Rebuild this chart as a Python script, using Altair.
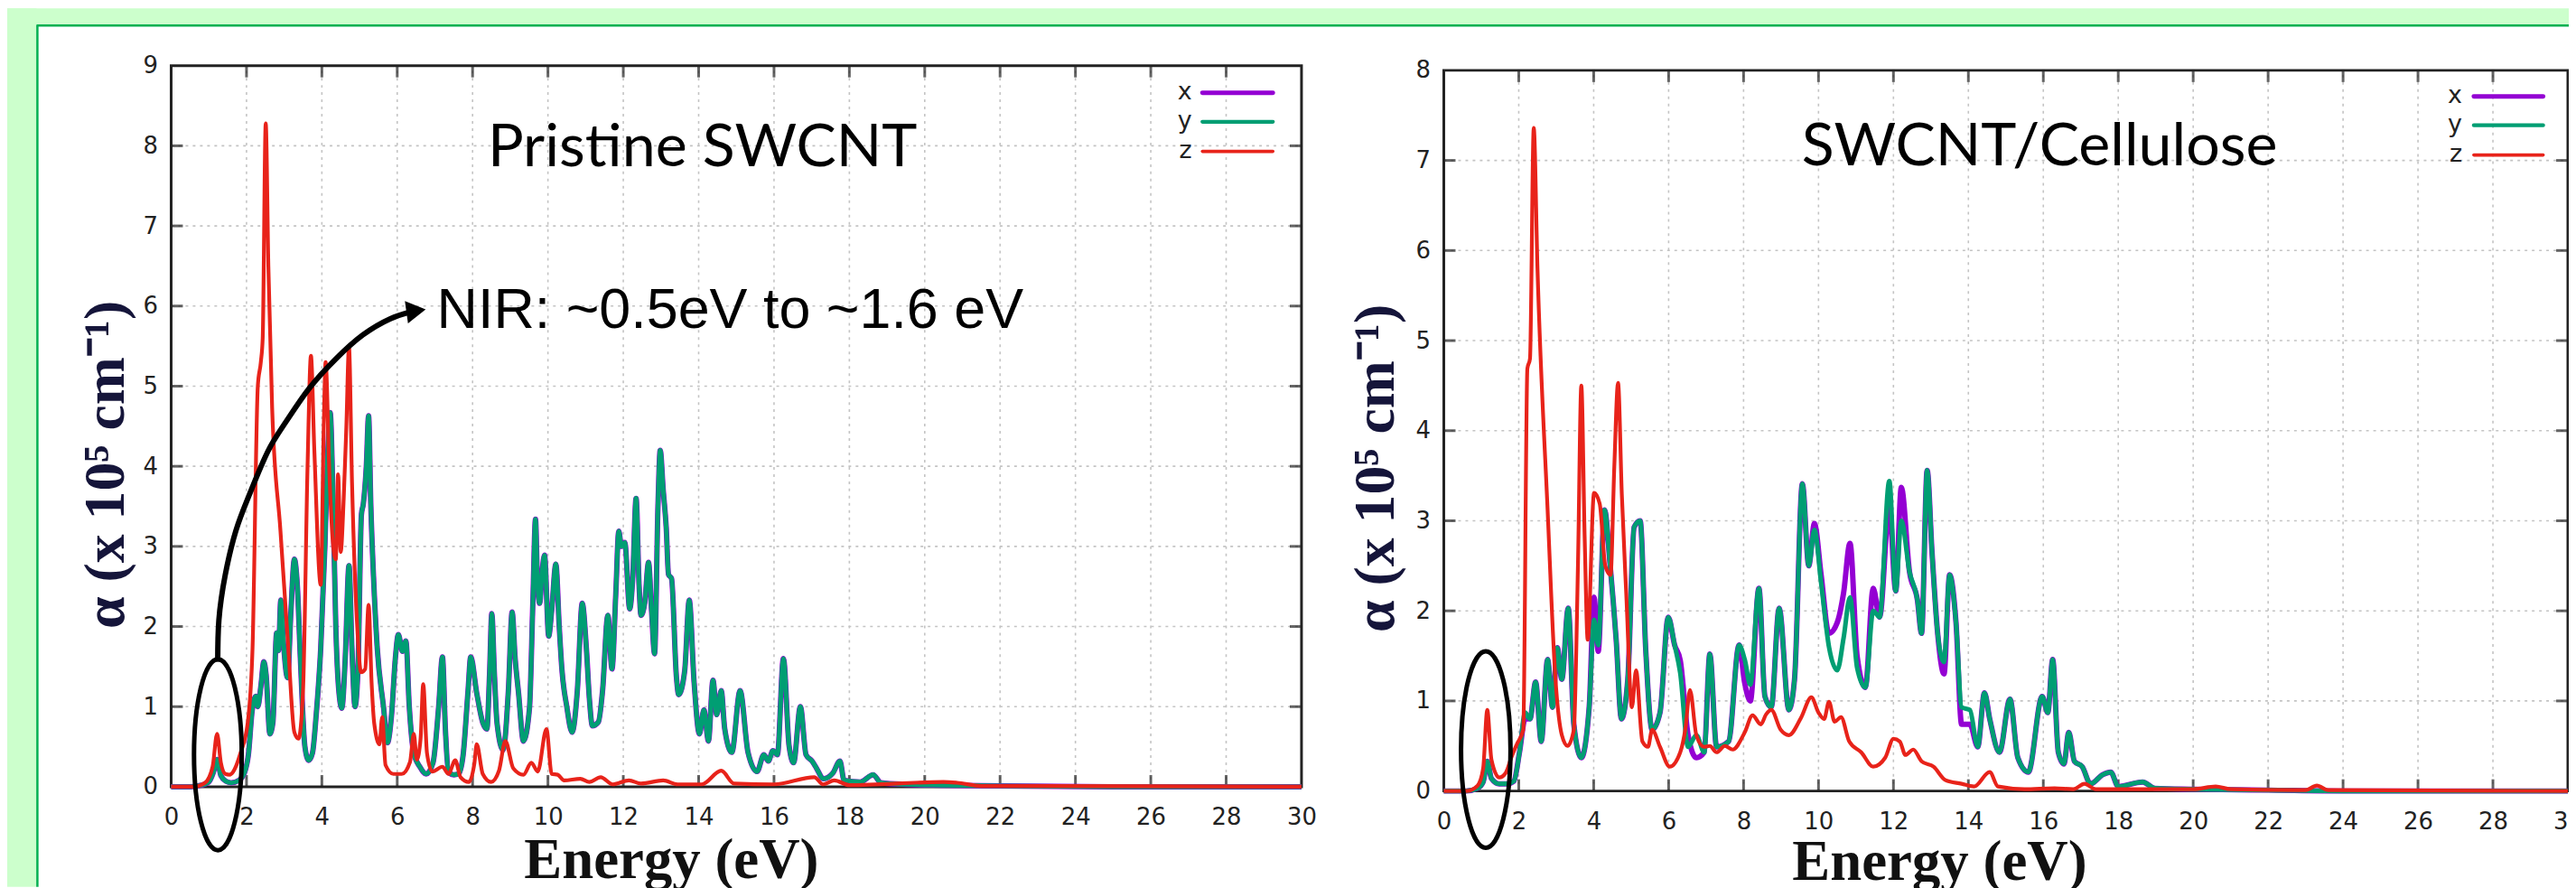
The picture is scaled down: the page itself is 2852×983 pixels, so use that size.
import altair as alt
import pandas as pd

# ---------------- data (Energy in eV, alpha in 1e5 cm^-1) ----------------
SERIES = ["x", "y", "z"]
SERIES_COLORS = ["#9400d3", "#009e73", "#e8231a"]
SERIES_WIDTHS = [6.0, 4.2, 3.4]
LEGEND_WIDTHS = [5.0, 3.6, 3.6]

X_LABELS = list(range(0, 31, 2))
X_TICKS = list(range(2, 30, 2))
LEFT_Y_LABELS = list(range(0, 10))
RIGHT_Y_LABELS = list(range(0, 9))

# Pristine SWCNT, y polarisation (x is indistinguishable from y in the picture)
LEFT_Y = [(0, 0), (0.5, 0.0), (0.8, 0.02), (1.0, 0.06), (1.12, 0.18), (1.22, 0.34), (1.32, 0.14), (1.45, 0.07),
          (1.6, 0.05), (1.8, 0.08), (1.95, 0.18), (2.05, 0.4), (2.15, 0.95), (2.25, 1.13), (2.3, 1.0), (2.38, 1.25),
          (2.46, 1.56), (2.52, 1.4), (2.62, 0.66), (2.7, 0.8), (2.8, 1.92), (2.85, 1.7), (2.91, 2.33), (2.98, 1.8),
          (3.09, 1.36), (3.18, 2.2), (3.27, 2.84), (3.35, 2.5), (3.43, 1.6), (3.55, 0.5), (3.65, 0.33), (3.75, 0.42),
          (3.85, 0.9), (3.97, 1.73), (4.08, 3.0), (4.16, 4.2), (4.22, 4.67), (4.3, 3.5), (4.37, 2.0), (4.45, 1.2),
          (4.53, 0.98), (4.62, 1.6), (4.72, 2.76), (4.8, 1.7), (4.88, 1.0), (4.96, 1.5), (5.05, 3.4), (5.1, 3.53),
          (5.18, 4.0), (5.24, 4.63), (5.3, 3.5), (5.37, 2.63), (5.47, 1.73), (5.64, 0.98), (5.74, 0.55), (5.85, 0.9),
          (5.95, 1.6), (6.03, 1.9), (6.14, 1.69), (6.23, 1.82), (6.32, 1.0), (6.44, 0.42), (6.6, 0.25), (6.77, 0.16),
          (6.95, 0.3), (7.1, 1.0), (7.2, 1.62), (7.28, 0.7), (7.36, 0.18), (7.5, 0.15), (7.63, 0.16), (7.75, 0.4),
          (7.88, 1.2), (7.95, 1.62), (8.11, 1.17), (8.27, 0.8), (8.38, 0.72), (8.45, 1.4), (8.51, 2.16), (8.58, 1.4),
          (8.65, 0.79), (8.81, 0.46), (8.95, 1.2), (9.05, 2.18), (9.13, 1.6), (9.22, 1.17), (9.35, 0.57), (9.51, 0.98),
          (9.6, 2.3), (9.67, 3.34), (9.72, 2.6), (9.78, 2.29), (9.85, 2.7), (9.91, 2.89), (10.02, 1.88), (10.1, 2.2),
          (10.21, 2.78), (10.3, 2.0), (10.37, 1.47), (10.5, 1.0), (10.64, 0.68), (10.78, 1.2), (10.91, 2.29),
          (11.02, 1.73), (11.1, 1.1), (11.18, 0.76), (11.34, 0.81), (11.45, 1.2), (11.59, 2.14), (11.7, 1.47),
          (11.8, 2.4), (11.88, 3.19), (11.95, 3.0), (12.04, 3.05), (12.17, 2.22), (12.25, 2.6), (12.34, 3.6),
          (12.42, 2.5), (12.47, 2.14), (12.57, 2.3), (12.67, 2.8), (12.75, 2.2), (12.83, 1.66), (12.92, 3.5),
          (12.98, 4.2), (13.06, 3.7), (13.14, 3.23), (13.2, 2.65), (13.28, 2.6), (13.41, 1.37), (13.47, 1.15),
          (13.63, 1.45), (13.75, 2.33), (13.88, 1.3), (14.02, 0.66), (14.14, 0.96), (14.26, 0.57), (14.38, 1.33),
          (14.48, 0.9), (14.6, 1.2), (14.69, 0.73), (14.88, 0.43), (15.1, 1.2), (15.31, 0.43), (15.55, 0.19),
          (15.73, 0.4), (15.85, 0.32), (15.97, 0.45), (16.09, 0.4), (16.25, 1.6), (16.4, 0.51), (16.52, 0.3),
          (16.7, 1.0), (16.85, 0.4), (17.01, 0.32), (17.13, 0.23), (17.31, 0.1), (17.56, 0.17), (17.75, 0.32),
          (17.86, 0.08), (18.29, 0.06), (18.63, 0.15), (18.84, 0.05), (19.5, 0.03), (20.5, 0.02), (22, 0.01),
          (25, 0.0), (30, 0.0)]
LEFT_X = list(LEFT_Y)

LEFT_Z = [(0, 0), (0.6, 0.0), (0.9, 0.05), (1.1, 0.25), (1.22, 0.66), (1.32, 0.3), (1.44, 0.16), (1.55, 0.15),
          (1.65, 0.19), (1.84, 0.42), (2.03, 0.79), (2.16, 1.73), (2.3, 5.0), (2.38, 5.3), (2.43, 5.6), (2.51, 8.28),
          (2.58, 6.5), (2.68, 4.73), (2.9, 3.2), (3.1, 1.8), (3.27, 0.68), (3.38, 0.6), (3.5, 1.2), (3.62, 4.0),
          (3.71, 5.38), (3.8, 4.2), (3.97, 2.52), (4.05, 4.5), (4.1, 5.3), (4.2, 3.9), (4.3, 3.0), (4.37, 2.84),
          (4.43, 3.9), (4.5, 2.93), (4.58, 3.6), (4.65, 4.5), (4.72, 5.49), (4.8, 3.8), (4.95, 1.9), (5.04, 1.43),
          (5.15, 1.47), (5.24, 2.27), (5.32, 1.3), (5.39, 0.79), (5.53, 0.53), (5.6, 0.87), (5.69, 0.27), (5.9, 0.16),
          (6.12, 0.16), (6.34, 0.31), (6.44, 0.66), (6.52, 0.34), (6.62, 0.6), (6.69, 1.28), (6.79, 0.42), (6.93, 0.19),
          (7.2, 0.25), (7.36, 0.16), (7.54, 0.33), (7.68, 0.12), (7.9, 0.06), (8.05, 0.3), (8.11, 0.53), (8.27, 0.16),
          (8.49, 0.06), (8.7, 0.2), (8.87, 0.57), (9.08, 0.23), (9.35, 0.15), (9.56, 0.3), (9.73, 0.19), (9.96, 0.72),
          (10.1, 0.16), (10.26, 0.15), (10.43, 0.08), (10.86, 0.1), (11.1, 0.06), (11.4, 0.12), (11.72, 0.03),
          (12.15, 0.08), (12.47, 0.04), (13.06, 0.08), (13.44, 0.03), (14.08, 0.03), (14.6, 0.2), (14.94, 0.04),
          (16.0, 0.03), (17.07, 0.12), (17.3, 0.03), (17.6, 0.08), (18.0, 0.02), (20.5, 0.06), (20.86, 0.05),
          (21.5, 0.01), (23, 0.01), (30, 0.0)]

# SWCNT/Cellulose
RIGHT_Y = [(0, 0), (0.6, 0.0), (0.9, 0.03), (1.05, 0.1), (1.16, 0.33), (1.27, 0.14), (1.48, 0.08), (1.7, 0.08),
           (1.87, 0.11), (2.02, 0.43), (2.17, 0.87), (2.3, 0.8), (2.45, 1.21), (2.6, 0.55), (2.77, 1.46), (2.9, 0.93),
           (3.03, 1.59), (3.15, 1.24), (3.32, 2.03), (3.47, 0.74), (3.67, 0.37), (3.88, 0.93), (4.01, 1.9),
           (4.12, 1.62), (4.29, 3.12), (4.44, 2.5), (4.6, 1.68), (4.74, 0.8), (4.91, 1.24), (5.08, 2.93), (5.24, 3.0),
           (5.39, 1.56), (5.56, 0.68), (5.77, 0.87), (5.99, 1.93), (6.16, 1.62), (6.31, 1.31), (6.52, 0.49),
           (6.74, 0.62), (6.95, 0.43), (7.1, 1.52), (7.28, 0.49), (7.6, 0.55), (7.88, 1.62), (8.03, 1.46), (8.18, 1.18),
           (8.41, 2.25), (8.57, 1.05), (8.74, 0.93), (8.95, 2.03), (9.21, 0.9), (9.36, 1.24), (9.57, 3.41), (9.74, 2.5),
           (9.89, 2.9), (10.07, 2.31), (10.28, 1.6), (10.5, 1.34), (10.67, 1.7), (10.84, 2.15), (11.03, 1.37),
           (11.25, 1.15), (11.46, 2.0), (11.63, 1.93), (11.89, 3.44), (12.06, 2.22), (12.21, 3.0), (12.43, 2.43),
           (12.64, 2.12), (12.75, 1.75), (12.9, 3.56), (13.03, 2.65), (13.18, 1.75), (13.35, 1.43), (13.5, 2.4),
           (13.67, 1.87), (13.82, 0.93), (14.04, 0.9), (14.25, 0.49), (14.43, 1.09), (14.57, 0.8), (14.83, 0.43),
           (15.11, 1.02), (15.32, 0.37), (15.6, 0.21), (15.97, 1.05), (16.12, 0.87), (16.25, 1.46), (16.4, 0.43),
           (16.55, 0.3), (16.68, 0.65), (16.83, 0.33), (17.04, 0.27), (17.26, 0.08), (17.58, 0.18), (17.8, 0.21),
           (18.0, 0.05), (18.65, 0.1), (18.98, 0.03), (20, 0.02), (22, 0.01), (24, 0.0), (30, 0.0)]

RIGHT_X = [(0, 0), (0.6, 0.0), (0.9, 0.03), (1.05, 0.1), (1.16, 0.33), (1.27, 0.14), (1.48, 0.08), (1.7, 0.08),
           (1.87, 0.11), (2.02, 0.43), (2.17, 0.8), (2.3, 0.8), (2.45, 1.21), (2.6, 0.55), (2.77, 1.46), (2.9, 0.93),
           (3.03, 1.59), (3.15, 1.24), (3.32, 2.03), (3.47, 0.74), (3.67, 0.37), (3.88, 0.93), (4.01, 2.15),
           (4.12, 1.55), (4.29, 3.12), (4.44, 2.5), (4.6, 1.68), (4.74, 0.8), (4.91, 1.24), (5.08, 2.93), (5.24, 3.0),
           (5.39, 1.56), (5.56, 0.68), (5.77, 0.87), (5.99, 1.93), (6.16, 1.62), (6.31, 1.45), (6.52, 0.62),
           (6.74, 0.37), (6.95, 0.43), (7.1, 1.52), (7.28, 0.49), (7.6, 0.55), (7.88, 1.62), (8.03, 1.2), (8.18, 1.0),
           (8.41, 2.25), (8.57, 1.05), (8.74, 0.93), (8.95, 2.03), (9.21, 0.9), (9.36, 1.24), (9.57, 3.41), (9.74, 2.5),
           (9.89, 2.97), (10.07, 2.4), (10.28, 1.75), (10.5, 1.87), (10.67, 2.2), (10.84, 2.75), (11.03, 1.5),
           (11.25, 1.15), (11.46, 2.25), (11.63, 1.93), (11.89, 3.15), (12.06, 2.22), (12.21, 3.37), (12.43, 2.43),
           (12.64, 2.12), (12.75, 1.75), (12.9, 3.56), (13.03, 2.65), (13.18, 1.75), (13.35, 1.3), (13.5, 2.4),
           (13.67, 1.87), (13.82, 0.74), (14.04, 0.74), (14.25, 0.49), (14.43, 1.09), (14.57, 0.8), (14.83, 0.43),
           (15.11, 1.02), (15.32, 0.37), (15.6, 0.21), (15.97, 1.05), (16.12, 0.87), (16.25, 1.46), (16.4, 0.43),
           (16.55, 0.3), (16.68, 0.65), (16.83, 0.33), (17.04, 0.27), (17.26, 0.08), (17.58, 0.18), (17.8, 0.21),
           (18.0, 0.05), (18.65, 0.1), (18.98, 0.03), (20, 0.02), (22, 0.01), (24, 0.0), (30, 0.0)]

RIGHT_Z = [(0, 0), (0.6, 0.0), (0.9, 0.06), (1.05, 0.25), (1.16, 0.9), (1.27, 0.35), (1.48, 0.15), (1.65, 0.2),
           (1.8, 0.37), (1.95, 0.52), (2.12, 0.68), (2.23, 4.69), (2.3, 4.8), (2.4, 7.36), (2.5, 5.8), (2.77, 3.12),
           (2.98, 1.24), (3.15, 0.62), (3.3, 0.5), (3.47, 0.68), (3.58, 2.5), (3.67, 4.5), (3.76, 2.8), (3.84, 1.68),
           (4.01, 3.31), (4.16, 3.19), (4.31, 2.5), (4.45, 2.4), (4.55, 3.6), (4.65, 4.53), (4.75, 3.3), (4.87, 2.18),
           (5.02, 0.93), (5.13, 1.34), (5.3, 0.55), (5.45, 0.49), (5.56, 0.68), (5.77, 0.49), (6.03, 0.27),
           (6.31, 0.43), (6.45, 0.7), (6.57, 1.12), (6.74, 0.62), (6.95, 0.49), (7.1, 0.5), (7.28, 0.43), (7.5, 0.5),
           (7.71, 0.46), (8.03, 0.65), (8.24, 0.84), (8.46, 0.74), (8.6, 0.85), (8.74, 0.9), (8.99, 0.68), (9.21, 0.62),
           (9.53, 0.81), (9.81, 1.04), (10.0, 0.87), (10.15, 0.8), (10.28, 0.99), (10.43, 0.77), (10.6, 0.82),
           (10.82, 0.55), (11.14, 0.43), (11.46, 0.27), (11.78, 0.37), (12.0, 0.58), (12.17, 0.55), (12.32, 0.4),
           (12.53, 0.46), (12.75, 0.33), (13.07, 0.27), (13.39, 0.12), (13.82, 0.08), (14.15, 0.05), (14.57, 0.21),
           (14.79, 0.05), (15.5, 0.02), (16.3, 0.03), (16.8, 0.02), (17.1, 0.08), (17.4, 0.02), (20.0, 0.02),
           (20.6, 0.05), (21, 0.02), (23.0, 0.01), (23.3, 0.06), (23.6, 0.01), (30, 0.0)]

# legend rows: series, line start, line end, row height, label anchor (data coordinates of each panel)
LEFT_LEGEND = [("x", 27.37, 29.24, 8.66, 27.09), ("y", 27.37, 29.24, 8.30, 27.09), ("z", 27.37, 29.24, 7.93, 27.09)]
RIGHT_LEGEND = [("x", 27.49, 29.34, 7.71, 27.18), ("y", 27.49, 29.34, 7.39, 27.18), ("z", 27.49, 29.34, 7.06, 27.18)]

# annotations (data coordinates)
LEFT_ELLIPSE = [(1.24, 0.40)]
RIGHT_ELLIPSE = [(1.12, 0.46)]
ARROW_PATH = [(1.236, 1.56), (1.267, 2.08), (1.434, 2.64), (1.721, 3.2), (2.08, 3.65), (2.56, 4.18), (3.04, 4.55),
              (3.66, 4.97), (4.37, 5.34), (5.09, 5.64), (5.81, 5.84), (6.3, 5.92)]
ARROW_HEAD = [(6.5, 5.94)]
NIR_TEXT = [(7.05, 5.73, "NIR: ~0.5eV to ~1.6 eV")]
LEFT_TITLE = [(14.1, 7.75, "Pristine SWCNT")]
RIGHT_TITLE = [(15.9, 6.95, "SWCNT/Cellulose")]

LIGHT_GREEN = "#ccffcc"
DARK_GREEN = "#00b050"
FRAME = "#222222"
GRID = "#c4c4c4"

# page geometry (pixels)
PAD_LEFT, PAD_TOP = 182, 63.5
VIEW_W, VIEW_H = 2662, 800.5
PAD_BOTTOM = 975 - PAD_TOP - VIEW_H


def series_df(pairs_by_series):
    rows = []
    for name, pairs in pairs_by_series:
        for e, a in pairs:
            rows.append({"E": e, "A": a, "series": name})
    return pd.DataFrame(rows)


def build_panel(lines, ymax, xrange, yrange, y_labels, x_offset, y_offset, xt, yt, legend_rows, title_rows,
                ellipse, ell_size, ell_rx, label_pad, annotate=False, background=False):
    XS = alt.Scale(domain=[0, 30], nice=False, zero=False, range=xrange)
    YS = alt.Scale(domain=[0, ymax], nice=False, zero=False, range=yrange)
    XA = alt.Axis(values=X_LABELS, format="d", grid=False, ticks=False, domain=False, orient="bottom",
                  offset=x_offset,
                  labelFont="DejaVu Sans", labelFontSize=26, labelColor="#222222",
                  labelPadding=label_pad, labelFlush=False, labelOverlap=False, labelBound=False,
                  title="Energy (eV)", titleFont="Liberation Serif", titleFontWeight="bold",
                  titleFontSize=63, titleColor="#111111", titleX=xt[0], titleY=xt[1],
                  titleAlign="center", titleBaseline="alphabetic")
    YA = alt.Axis(values=y_labels, format="d", grid=False, ticks=False, domain=False, orient="left",
                  offset=y_offset,
                  labelFont="DejaVu Sans", labelFontSize=26, labelColor="#222222", labelPadding=15,
                  labelFlush=False, labelOverlap=False, labelBound=False,
                  title="α (x 10⁵ cm⁻¹)", titleFont="Liberation Serif", titleFontWeight="bold",
                  titleFontSize=64, titleColor="#15153a", titleX=yt[0], titleY=yt[1],
                  titleAngle=270, titleAlign="center", titleBaseline="middle")
    CS = alt.Scale(domain=SERIES, range=SERIES_COLORS)

    def X(f):
        return alt.X(f, type="quantitative", scale=XS, axis=XA)

    def Y(f):
        return alt.Y(f, type="quantitative", scale=YS, axis=YA)

    layers = []
    if background:
        one = pd.DataFrame({"k": [0]})
        layers.append(alt.Chart(one).mark_rect(color=LIGHT_GREEN).encode(
            x=alt.value(-PAD_LEFT), x2=alt.value(VIEW_W), y=alt.value(-PAD_TOP), y2=alt.value(-45)))
        layers.append(alt.Chart(one).mark_rect(color=LIGHT_GREEN).encode(
            x=alt.value(-PAD_LEFT), x2=alt.value(-149.5), y=alt.value(-PAD_TOP), y2=alt.value(VIEW_H + PAD_BOTTOM)))
        layers.append(alt.Chart(one).mark_rule(color=DARK_GREEN, strokeWidth=2.5).encode(
            x=alt.value(-149.5), x2=alt.value(VIEW_W), y=alt.value(-44.5)))
        layers.append(alt.Chart(one).mark_rule(color=DARK_GREEN, strokeWidth=2.5).encode(
            x=alt.value(-148.5), y=alt.value(-44.5), y2=alt.value(VIEW_H + PAD_BOTTOM)))

    vgrid = pd.DataFrame({"E": X_TICKS, "a0": 0, "a1": ymax})
    hgrid = pd.DataFrame({"A": list(range(1, ymax)), "e0": 0, "e1": 30})
    layers.append(alt.Chart(vgrid).mark_rule(color=GRID, strokeWidth=1.6, strokeDash=[3, 5]).encode(
        x=X("E"), y=Y("a0"), y2="a1"))
    layers.append(alt.Chart(hgrid).mark_rule(color=GRID, strokeWidth=1.6, strokeDash=[3, 5]).encode(
        y=Y("A"), x=X("e0"), x2="e1"))

    frame = pd.DataFrame({"e0": [0], "e1": [30], "a0": [0], "a1": [ymax]})
    layers.append(alt.Chart(frame).mark_rect(fillOpacity=0, stroke=FRAME, strokeWidth=3).encode(
        x=X("e0"), x2="e1", y=Y("a0"), y2="a1"))

    bt = pd.DataFrame({"E": X_TICKS, "a": 0})
    tt = pd.DataFrame({"E": X_TICKS, "a": ymax})
    lt = pd.DataFrame({"A": list(range(1, ymax)), "e": 0})
    rt = pd.DataFrame({"A": list(range(1, ymax)), "e": 30})
    layers.append(alt.Chart(bt).mark_tick(orient="vertical", size=13, thickness=3, color=FRAME, yOffset=-6.5)
                  .encode(x=X("E"), y=Y("a")))
    layers.append(alt.Chart(tt).mark_tick(orient="vertical", size=13, thickness=3, color=FRAME, yOffset=6.5)
                  .encode(x=X("E"), y=Y("a")))
    layers.append(alt.Chart(lt).mark_tick(orient="horizontal", size=13, thickness=3, color=FRAME, xOffset=6.5)
                  .encode(x=X("e"), y=Y("A")))
    layers.append(alt.Chart(rt).mark_tick(orient="horizontal", size=13, thickness=3, color=FRAME, xOffset=-6.5)
                  .encode(x=X("e"), y=Y("A")))

    layers.append(alt.Chart(lines).mark_line(strokeJoin="round", interpolate="monotone").encode(
        x=X("E"), y=Y("A"),
        color=alt.Color("series:N", scale=CS, legend=None),
        strokeWidth=alt.StrokeWidth("series:N", scale=alt.Scale(domain=SERIES, range=SERIES_WIDTHS), legend=None),
        order=alt.Order("E:Q")))

    ell = pd.DataFrame(ellipse, columns=["E", "A"])
    path = f"M0,-1 A{ell_rx},1 0 1,1 0,1 A{ell_rx},1 0 1,1 0,-1 Z"
    layers.append(alt.Chart(ell).mark_point(shape=path, size=ell_size, filled=False, stroke="black",
                                            strokeWidth=5, opacity=1).encode(x=X("E"), y=Y("A")))

    if annotate:
        arrow = pd.DataFrame(ARROW_PATH, columns=["E", "A"])
        layers.append(alt.Chart(arrow).mark_line(color="black", strokeWidth=6, interpolate="natural")
                      .encode(x=X("E"), y=Y("A")))
        head = pd.DataFrame(ARROW_HEAD, columns=["E", "A"])
        layers.append(alt.Chart(head).mark_point(shape="triangle-right", size=620, filled=True, color="black",
                                                 opacity=1, angle=352).encode(x=X("E"), y=Y("A")))
        nir = pd.DataFrame(NIR_TEXT, columns=["E", "A", "t"])
        layers.append(alt.Chart(nir).mark_text(font="Liberation Sans", fontSize=63, color="black", align="left",
                                               baseline="alphabetic").encode(x=X("E"), y=Y("A"), text="t:N"))

    tdf = pd.DataFrame(title_rows, columns=["E", "A", "t"])
    layers.append(alt.Chart(tdf).mark_text(font="Lato", fontSize=66.5, color="black", align="center",
                                           baseline="alphabetic").encode(x=X("E"), y=Y("A"), text="t:N"))

    leg = pd.DataFrame(legend_rows, columns=["series", "e0", "e1", "A", "lab"])
    layers.append(alt.Chart(leg).mark_rule(strokeCap="round").encode(
        x=X("e0"), x2="e1", y=Y("A"),
        color=alt.Color("series:N", scale=CS, legend=None),
        strokeWidth=alt.StrokeWidth("series:N", scale=alt.Scale(domain=SERIES, range=LEGEND_WIDTHS), legend=None)))
    layers.append(alt.Chart(leg).mark_text(font="DejaVu Sans", fontSize=27, color="#222222", align="right",
                                           baseline="middle", dy=-1).encode(x=X("lab"), y=Y("A"), text="series:N"))

    return alt.layer(*layers).resolve_scale(strokeWidth="independent")


left = build_panel(series_df([("x", LEFT_X), ("y", LEFT_Y), ("z", LEFT_Z)]), 9, [0, 1255], [VIEW_H, 0],
                   LEFT_Y_LABELS, 0, 0, (555, 101), (-72, 442.5), LEFT_LEGEND, LEFT_TITLE,
                   LEFT_ELLIPSE, 44944, 0.25, 21, annotate=True, background=True)
right = build_panel(series_df([("x", RIGHT_X), ("y", RIGHT_Y), ("z", RIGHT_Z)]), 8, [1413, 2661],
                    [805.2, 5.2], RIGHT_Y_LABELS, 4.7, {"expr": "-1413"}, (1963, 98.5), (-75, 446.5),
                    RIGHT_LEGEND, RIGHT_TITLE, RIGHT_ELLIPSE, 47524, 0.252, 21)

chart = alt.layer(left, right).resolve_scale(
    x="independent", y="independent", color="independent", strokeWidth="independent"
).resolve_axis(x="independent", y="independent").properties(
    width=VIEW_W, height=VIEW_H,
    padding={"left": PAD_LEFT, "top": PAD_TOP, "right": 0, "bottom": PAD_BOTTOM},
    autosize=alt.AutoSizeParams(type="none"),
).configure(background="white").configure_view(strokeWidth=0)

chart.save("out.html", embed_options={"renderer": "svg", "actions": False})
